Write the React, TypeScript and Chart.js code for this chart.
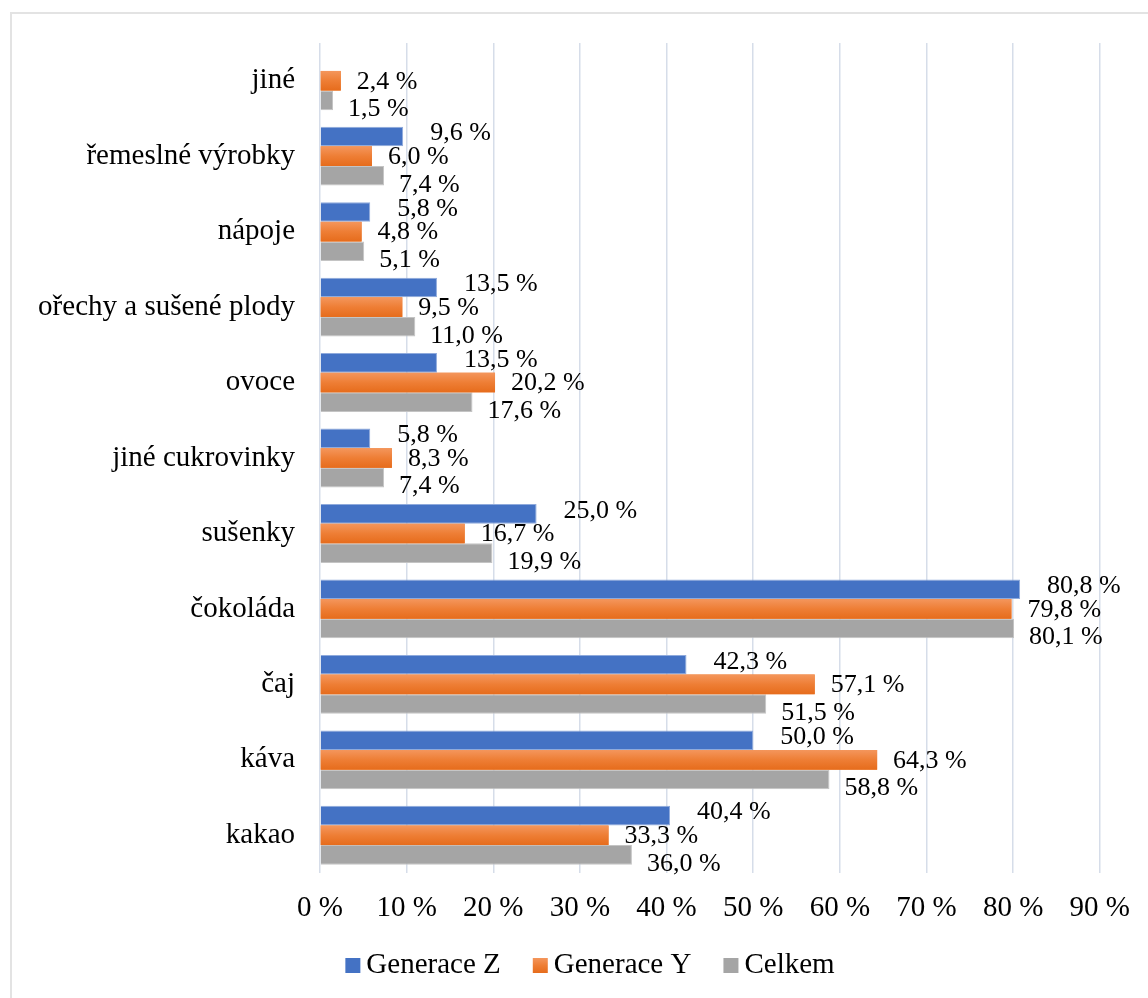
import React, { useEffect, useRef } from "react";
import { Chart, registerables } from "chart.js";

Chart.register(...registerables);

const categories = [
  "jiné",
  "řemeslné výrobky",
  "nápoje",
  "ořechy a sušené plody",
  "ovoce",
  "jiné cukrovinky",
  "sušenky",
  "čokoláda",
  "čaj",
  "káva",
  "kakao",
];

const seriesNames = ["Generace Z", "Generace Y", "Celkem"];

const generaceZ = [null, 9.6, 5.8, 13.5, 13.5, 5.8, 25.0, 80.8, 42.3, 50.0, 40.4];
const generaceY = [2.4, 6.0, 4.8, 9.5, 20.2, 8.3, 16.7, 79.8, 57.1, 64.3, 33.3];
const celkem = [1.5, 7.4, 5.1, 11.0, 17.6, 7.4, 19.9, 80.1, 51.5, 58.8, 36.0];

const xMin = 0;
const xMax = 90;
const xStep = 10;

const FONT = "'Liberation Serif', 'Times New Roman', serif";
const COLORS = ["#4472C4", "#ED7D31", "#A5A5A5"];

const fmt = (v: number) => v.toFixed(1).replace(".", ",") + " %";

const orangeGrad = (ctx: CanvasRenderingContext2D, top: number, h: number) => {
  const g = ctx.createLinearGradient(0, top, 0, top + h);
  g.addColorStop(0, "#F4965C");
  g.addColorStop(0.5, "#EE7E35");
  g.addColorStop(1, "#E66C1C");
  return g;
};

const barDecor = {
  id: "barDecor",
  afterDatasetsDraw(chart: any) {
    const ctx = chart.ctx;
    const meta1 = chart.getDatasetMeta(1);
    meta1.data.forEach((el: any, i: number) => {
      const v = chart.data.datasets[1].data[i];
      if (v == null) return;
      const top = el.y - el.height / 2;
      ctx.save();
      ctx.fillStyle = orangeGrad(ctx, top, el.height);
      ctx.fillRect(el.base, top, el.x - el.base, el.height);
      ctx.restore();
    });
    const dxs = [27, 16, 15];
    const dys = [-3, 1, 9];
    ctx.save();
    ctx.font = `26px ${FONT}`;
    ctx.fillStyle = "#000";
    ctx.textAlign = "left";
    ctx.textBaseline = "middle";
    chart.data.datasets.forEach((ds: any, di: number) => {
      const meta = chart.getDatasetMeta(di);
      meta.data.forEach((el: any, i: number) => {
        const v = ds.data[i];
        if (v == null) return;
        ctx.fillText(fmt(v), el.x + dxs[di], el.y + dys[di]);
      });
    });
    ctx.restore();
  },
  afterDraw(chart: any) {
    const ctx = chart.ctx;
    ctx.save();
    ctx.font = `29px ${FONT}`;
    ctx.textBaseline = "alphabetic";
    ctx.textAlign = "left";
    const box = 15;
    const gapText = 6;
    const gapItem = 32;
    const widths = seriesNames.map((n) => ctx.measureText(n).width);
    const total =
      widths.reduce((a, w) => a + box + gapText + w, 0) + gapItem * (seriesNames.length - 1);
    let x = chart.width / 2 + 16 - total / 2;
    const baseline = 973;
    seriesNames.forEach((n, i) => {
      ctx.fillStyle = i === 1 ? orangeGrad(ctx, baseline - box, box) : COLORS[i];
      ctx.fillRect(x, baseline - box, box, box);
      ctx.fillStyle = "#000";
      ctx.fillText(n, x + box + gapText, baseline);
      x += box + gapText + widths[i] + gapItem;
    });
    ctx.restore();
  },
};

export default function App() {
  const ref = useRef<HTMLCanvasElement | null>(null);
  useEffect(() => {
    if (!ref.current) return;
    Chart.defaults.font.family = FONT;
    Chart.defaults.color = "#000";
    const chart = new Chart(ref.current, {
      type: "bar",
      data: {
        labels: categories,
        datasets: [
          {
            label: seriesNames[0],
            data: generaceZ,
            backgroundColor: COLORS[0],
            borderColor: "#8FAADC",
            borderWidth: 1,
          },
          {
            label: seriesNames[1],
            data: generaceY,
            backgroundColor: COLORS[1],
            borderColor: COLORS[1],
            borderWidth: 0,
          },
          {
            label: seriesNames[2],
            data: celkem,
            backgroundColor: COLORS[2],
            borderColor: "#C4C4C4",
            borderWidth: 1,
          },
        ] as any,
      },
      options: {
        indexAxis: "y",
        responsive: false,
        animation: false,
        devicePixelRatio: 1,
        datasets: {
          bar: {
            categoryPercentage: 0.78,
            barPercentage: 1,
          },
        },
        layout: {
          padding: { top: 43, right: 48, left: 0, bottom: 65 },
        },
        scales: {
          x: {
            min: xMin,
            max: xMax,
            ticks: {
              stepSize: xStep,
              padding: 18,
              font: { size: 29, family: FONT },
              color: "#000",
              callback: (v: any) => `${v} %`,
            },
            grid: {
              color: "#D6DDE9",
              lineWidth: 1.5,
              drawTicks: false,
            },
            border: { display: false },
            afterFit: (s: any) => {
              s.height = 60;
            },
          },
          y: {
            ticks: {
              padding: 25,
              font: { size: 29, family: FONT },
              color: "#000",
              autoSkip: false,
            },
            grid: { display: false, drawTicks: false },
            border: { display: false },
            afterFit: (s: any) => {
              s.width = 320;
            },
          },
        },
        plugins: {
          legend: { display: false },
          tooltip: { enabled: false },
        },
      } as any,
      plugins: [barDecor],
    });
    return () => chart.destroy();
  }, []);

  return (
    <div
      style={{
        position: "fixed",
        left: 0,
        top: 0,
        width: 1148,
        height: 998,
        overflow: "hidden",
        background: "#fff",
      }}
    >
      <div
        style={{
          position: "absolute",
          left: 10,
          top: 12,
          width: 1200,
          height: 1100,
          border: "2px solid #E3E3E3",
          boxSizing: "border-box",
        }}
      />
      <canvas
        ref={ref}
        width={1148}
        height={998}
        style={{ position: "absolute", left: 0, top: 0, width: 1148, height: 998 }}
      />
    </div>
  );
}
